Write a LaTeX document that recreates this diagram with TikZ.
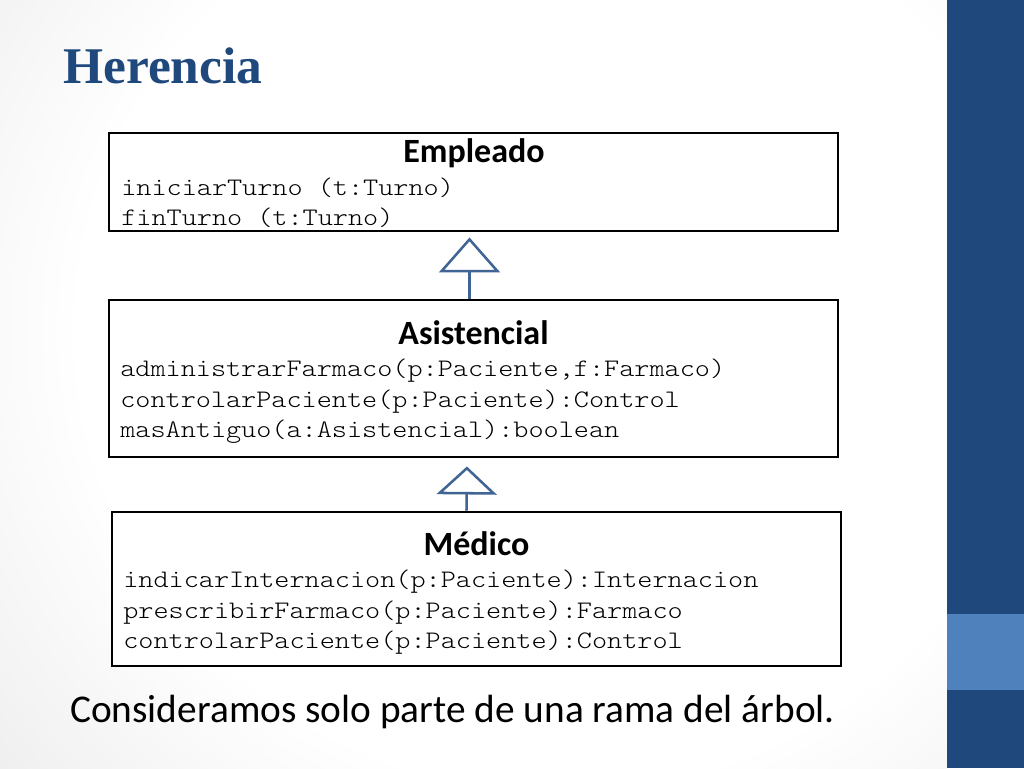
\documentclass[tikz,border=0pt]{standalone}
\usepackage{fontspec}
\setmainfont{Carlito}
\newfontfamily\courier{lmmonolt10-regular.otf}[FakeStretch=1.143]
\newfontfamily\titlefont{Liberation Serif}
\usetikzlibrary{arrows.meta,calc}
\definecolor{darkblue}{RGB}{31,73,125}
\definecolor{lightblue}{RGB}{79,129,189}
\definecolor{tricol}{RGB}{64,100,148}
\definecolor{bggray}{RGB}{224,224,224}
\pgfdeclareradialshading{vignette}{\pgfpoint{0bp}{0bp}}{color(0bp)=(white); color(12bp)=(white); color(24bp)=(bggray); color(50bp)=(bggray)}
\begin{document}
\begin{tikzpicture}[x=0.75pt,y=-0.75pt,
  umlbox/.style={draw=black,line width=2.2pt,fill=white,inner sep=0pt,minimum width=546.75pt},
  clsname/.style={font=\fontsize{25.5}{30}\selectfont\bfseries,inner sep=0pt,anchor=base},
  meth/.style={font=\courier\fontsize{18.9}{22}\selectfont,inner sep=0pt,anchor=base west},
  inhline/.style={draw=tricol,line width=1.9pt}
]
\useasboundingbox (0,0) rectangle (1024,768);
% background
\begin{scope}
\clip (0,0) rectangle (947,768);
\shade[shading=vignette] (560,330) ellipse [x radius=1000, y radius=950];
\end{scope}
% right bar
\fill[darkblue] (947,0) rectangle (1024,768);
\fill[lightblue] (947,614) rectangle (1024,690);
% title
\node[inner sep=0pt,anchor=base west,text=darkblue,font=\titlefont\bfseries\fontsize{38.6}{44}\selectfont] (title) at (63,83) {Herencia};
% boxes
\node[umlbox,minimum height=73.5pt] (emp) at (473.5,182) {};
\node[umlbox,minimum height=117.75pt] (asis) at (473.5,378.5) {};
\node[umlbox,minimum height=115.5pt] (med) at (476.5,589) {};
% inheritance connectors
\draw[inhline,-{Triangle[open,length=26.25pt,width=45.75pt]},shorten >=3.75pt]
  ($(asis.north)+(-4,0)$) -- ($(emp.south)+(-4,0)$);
\draw[inhline,-{Triangle[open,length=21pt,width=45pt]},shorten >=6pt]
  ($(med.north)+(-10,0)$) -- ($(asis.south)+(-6.5,0)$);
% Empleado
\node[clsname] (empname) at (474,162) {Empleado};
\node[meth] (emp1) at (121,195) {iniciarTurno (t:Turno)};
\node[meth] (emp2) at (121,225.5) {finTurno (t:Turno)};
% Asistencial
\node[clsname] (asisname) at (473.5,344) {Asistencial};
\node[meth] (asis1) at (120,376.5) {administrarFarmaco(p:Paciente,f:Farmaco)};
\node[meth] (asis2) at (120,407) {controlarPaciente(p:Paciente):Control};
\node[meth] (asis3) at (120,437.5) {masAntiguo(a:Asistencial):boolean};
% Medico
\node[clsname] (medname) at (476.5,555.5) {Médico};
\node[meth] (med1) at (123,587.5) {indicarInternacion(p:Paciente):Internacion};
\node[meth] (med2) at (123,618) {prescribirFarmaco(p:Paciente):Farmaco};
\node[meth] (med3) at (123,648.5) {controlarPaciente(p:Paciente):Control};
% footer
\node[inner sep=0pt,anchor=base west,font=\fontsize{29.5}{35}\selectfont] (footer) at (70,722) {Consideramos solo parte de una rama del árbol.};
\end{tikzpicture}
\end{document}
